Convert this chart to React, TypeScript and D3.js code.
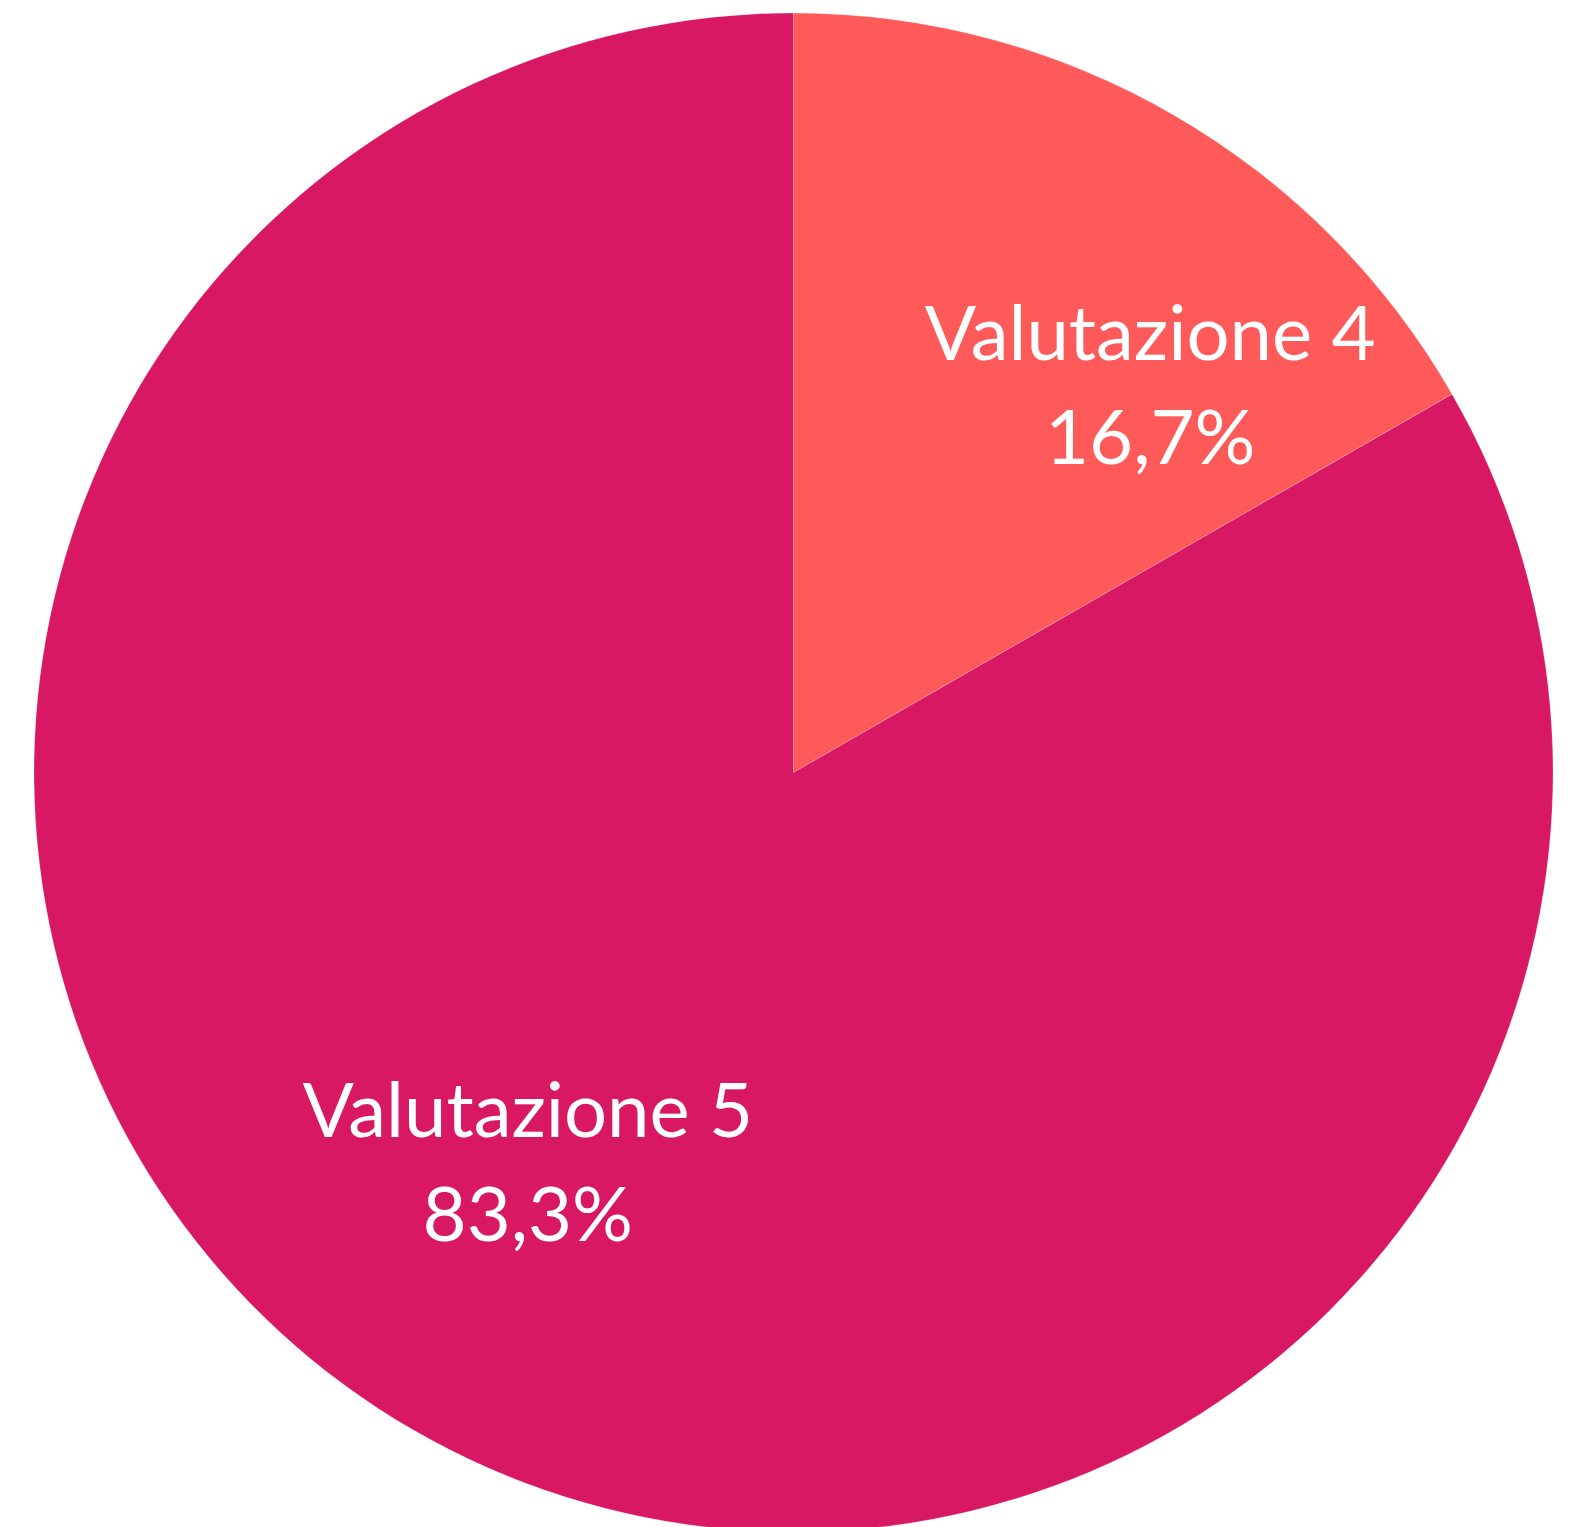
import React from "react";
import * as d3 from "d3";

const categories = ["Valutazione 4", "Valutazione 5"];
const values = [16.7, 83.3];
const percentLabels = ["16,7%", "83,3%"];
const colors = ["#FF5A5A", "#D81862"];

const W = 1572;
const H = 1527;

export default function App() {
  const cx = 793.5;
  const cy = 772.5;
  const R = 759.5;
  const pie = d3.pie<number>().sort(null).value((d) => d)(values);
  const arc = d3.arc<d3.PieArcDatum<number>>().innerRadius(0).outerRadius(R);
  const labelArc = d3.arc<d3.PieArcDatum<number>>().innerRadius(R * 0.68).outerRadius(R * 0.68);
  const nudges = [
    [98, 59],
    [-7, -57],
  ];
  return (
    <svg width={W} height={H} style={{ position: "absolute", left: 0, top: 0, display: "block" }}>
      <rect width={W} height={H} fill="#ffffff" />
      <g transform={`translate(${cx},${cy})`}>
        {pie.map((p, i) => (
          <path key={i} d={arc(p) || ""} fill={colors[i]} stroke="#ffffff" strokeOpacity={0.35} strokeWidth={0.6} />
        ))}
        {pie.map((p, i) => {
          const [x, y] = labelArc.centroid(p);
          const lx = x + nudges[i][0];
          const ly = y + nudges[i][1];
          return (
            <text key={"t" + i} x={lx} y={ly} textAnchor="middle" fill="#ffffff"
              style={{ fontFamily: "Lato, sans-serif", fontSize: 76 }}>
              <tspan x={lx} y={ly - 25}>{categories[i]}</tspan>
              <tspan x={lx} y={ly + 79}>{percentLabels[i]}</tspan>
            </text>
          );
        })}
      </g>
    </svg>
  );
}
